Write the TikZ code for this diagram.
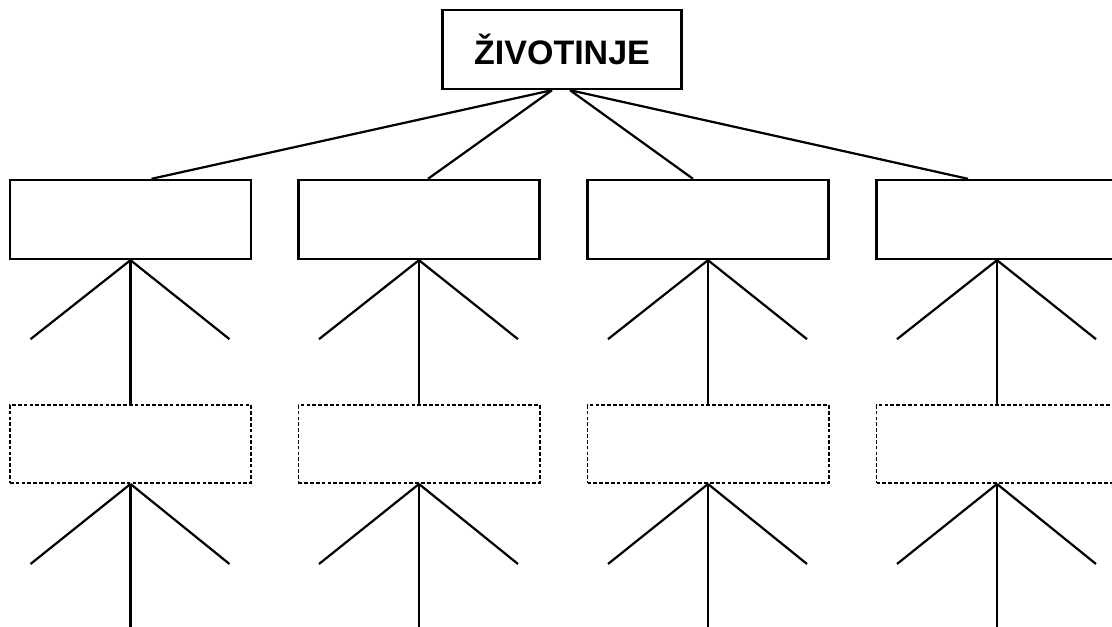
\documentclass[tikz,border=0pt]{standalone}
\usepackage{fontspec}
\setsansfont{Liberation Sans}
\usetikzlibrary{calc}

\begin{document}
\begin{tikzpicture}[x=0.03cm,y=-0.03cm,
  topbox/.style={draw,line width=2pt,minimum width=7.17cm,minimum height=2.37cm,
    font=\sffamily\bfseries\fontsize{29}{34}\selectfont},
  groupbox/.style={draw,line width=2pt,minimum width=7.23cm,minimum height=2.37cm},
  subbox/.style={draw,line width=1.7pt,dash pattern=on 1.1mm off 0.65mm,
    minimum width=7.23cm,minimum height=2.34cm},
  branch/.style={line width=1.9pt}]
\useasboundingbox (0,0) rectangle (1112,627);
% top
\node[topbox] (zivotinje) at (562,49.5) {ŽIVOTINJE};
% first row
\node[groupbox] (gr1) at (130.5,219.5) {};
\node[groupbox] (gr2) at (419,219.5) {};
\node[groupbox] (gr3) at (708,219.5) {};
\node[groupbox] (gr4) at (997,219.5) {};
% second row
\node[subbox] (sub1) at (130.5,444) {};
\node[subbox] (sub2) at (419,444) {};
\node[subbox] (sub3) at (708,444) {};
\node[subbox] (sub4) at (997,444) {};
% free ends
\coordinate (gr1l) at ($(gr1.south)+(-100,79)$);
\coordinate (gr1r) at ($(gr1.south)+(99,79)$);
\coordinate (gr2l) at ($(gr2.south)+(-100,79)$);
\coordinate (gr2r) at ($(gr2.south)+(99,79)$);
\coordinate (gr3l) at ($(gr3.south)+(-100,79)$);
\coordinate (gr3r) at ($(gr3.south)+(99,79)$);
\coordinate (gr4l) at ($(gr4.south)+(-100,79)$);
\coordinate (gr4r) at ($(gr4.south)+(99,79)$);
\coordinate (sub1l) at ($(sub1.south)+(-100,80)$);
\coordinate (sub1r) at ($(sub1.south)+(99,80)$);
\coordinate (sub1d) at ($(sub1.south)+(0,150)$);
\coordinate (sub2l) at ($(sub2.south)+(-100,80)$);
\coordinate (sub2r) at ($(sub2.south)+(99,80)$);
\coordinate (sub2d) at ($(sub2.south)+(0,150)$);
\coordinate (sub3l) at ($(sub3.south)+(-100,80)$);
\coordinate (sub3r) at ($(sub3.south)+(99,80)$);
\coordinate (sub3d) at ($(sub3.south)+(0,150)$);
\coordinate (sub4l) at ($(sub4.south)+(-100,80)$);
\coordinate (sub4r) at ($(sub4.south)+(99,80)$);
\coordinate (sub4d) at ($(sub4.south)+(0,150)$);
% top lines
\draw[branch] ($(zivotinje.south)+(-10,0)$) -- ($(gr1.north)+(21,0)$);
\draw[branch] ($(zivotinje.south)+(-10,0)$) -- ($(gr2.north)+(9,0)$);
\draw[branch] ($(zivotinje.south)+(8,0)$) -- ($(gr3.north)+(-15,0)$);
\draw[branch] ($(zivotinje.south)+(8,0)$) -- ($(gr4.north)+(-29,0)$);
% under first row
\draw[branch] (gr1.south) -- (gr1l);
\draw[branch] (gr1.south) -- (gr1r);
\draw[branch] (gr1.south) -- (sub1.north);
\draw[branch] (gr2.south) -- (gr2l);
\draw[branch] (gr2.south) -- (gr2r);
\draw[branch] (gr2.south) -- (sub2.north);
\draw[branch] (gr3.south) -- (gr3l);
\draw[branch] (gr3.south) -- (gr3r);
\draw[branch] (gr3.south) -- (sub3.north);
\draw[branch] (gr4.south) -- (gr4l);
\draw[branch] (gr4.south) -- (gr4r);
\draw[branch] (gr4.south) -- (sub4.north);
% under second row
\draw[branch] (sub1.south) -- (sub1l);
\draw[branch] (sub1.south) -- (sub1r);
\draw[branch] (sub1.south) -- (sub1d);
\draw[branch] (sub2.south) -- (sub2l);
\draw[branch] (sub2.south) -- (sub2r);
\draw[branch] (sub2.south) -- (sub2d);
\draw[branch] (sub3.south) -- (sub3l);
\draw[branch] (sub3.south) -- (sub3r);
\draw[branch] (sub3.south) -- (sub3d);
\draw[branch] (sub4.south) -- (sub4l);
\draw[branch] (sub4.south) -- (sub4r);
\draw[branch] (sub4.south) -- (sub4d);
\end{tikzpicture}
\end{document}
